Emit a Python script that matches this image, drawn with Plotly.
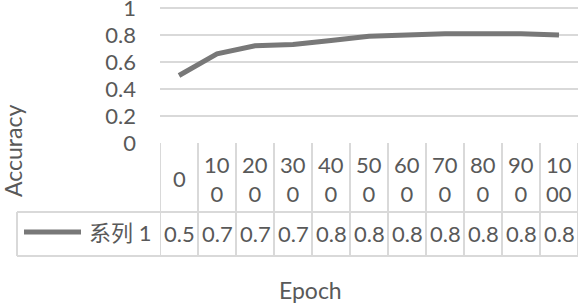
import plotly.graph_objects as go

epochs = ["0", "100", "200", "300", "400", "500", "600", "700", "800", "900", "1000"]
accuracy = [0.50, 0.66, 0.72, 0.73, 0.76, 0.79, 0.80, 0.81, 0.81, 0.81, 0.80]
series_name = "系列 1"
y_ticks = [0, 0.2, 0.4, 0.6, 0.8, 1]

W, H = 578, 306
def py(p):
    return 1 - p / H
def px(p):
    return p / W

TXT = "#595959"
GRID = "#d9d9d9"
LINE = "#787878"
FONT = "Lato, 'Noto Sans CJK SC', sans-serif"
FS = 22

n = len(epochs)
xs = list(range(n))

fig = go.Figure()
fig.add_trace(go.Scatter(x=xs, y=accuracy, mode="lines",
                         line=dict(color=LINE, width=5), name=series_name,
                         showlegend=False, hoverinfo="skip"))

shapes = []
annotations = []
table_top, row_split, table_bot = 143, 212, 256
leg_left = 17
for i in range(n + 1):
    shapes.append(dict(type="line", xref="x", yref="paper", x0=i - 0.5, x1=i - 0.5,
                       y0=py(table_top), y1=py(table_bot), line=dict(color=GRID, width=2)))
shapes.append(dict(type="line", xref="paper", yref="paper", x0=px(leg_left), x1=px(leg_left),
                   y0=py(row_split), y1=py(table_bot), line=dict(color=GRID, width=2)))
for yy, x0 in [(row_split, leg_left), (table_bot, leg_left)]:
    shapes.append(dict(type="line", xref="paper", yref="paper", x0=px(x0), x1=1,
                       y0=py(yy), y1=py(yy), line=dict(color=GRID, width=2)))
shapes.append(dict(type="line", xref="paper", yref="paper", x0=px(24), x1=px(81),
                   y0=py(232), y1=py(232), line=dict(color=LINE, width=5)))

def wrap(s):
    parts = [s[i:i + 2] for i in range(0, len(s), 2)]
    return "<br>".join(parts)

for i, lab in enumerate(epochs):
    annotations.append(dict(x=i, xref="x", y=py((table_top + row_split) / 2 + 1), yref="paper",
                            text=wrap(lab), showarrow=False, font=dict(size=FS, color=TXT, family=FONT),
                            xanchor="center", yanchor="middle"))
    annotations.append(dict(x=i, xref="x", y=py((row_split + table_bot) / 2), yref="paper",
                            text=f"{accuracy[i]:.1f}", showarrow=False,
                            font=dict(size=FS, color=TXT, family=FONT),
                            xanchor="center", yanchor="middle"))
annotations.append(dict(x=px(120), xref="paper", y=py(232), yref="paper", text=series_name,
                        showarrow=False, font=dict(size=FS, color=TXT, family=FONT),
                        xanchor="center", yanchor="middle"))
annotations.append(dict(x=px(13), xref="paper", y=py(151), yref="paper", text="Accuracy",
                        textangle=-90, showarrow=False, font=dict(size=FS + 1, color=TXT, family=FONT),
                        xanchor="center", yanchor="middle"))
annotations.append(dict(x=px(310), xref="paper", y=py(290), yref="paper", text="Epoch",
                        showarrow=False, font=dict(size=FS + 1, color=TXT, family=FONT),
                        xanchor="center", yanchor="middle"))

ytop = 1.02
fig.update_layout(
    width=W, height=H, autosize=False,
    margin=dict(l=0, r=0, t=0, b=0, autoexpand=False),
    paper_bgcolor="white", plot_bgcolor="white",
    shapes=shapes, annotations=annotations,
    font=dict(family=FONT, color=TXT, size=FS),
    xaxis=dict(domain=[px(160), 1], range=[-0.5, n - 0.5], showgrid=False,
               zeroline=False, showticklabels=False, showline=False, fixedrange=True),
    yaxis=dict(domain=[py(table_top), py(table_top - 135 * ytop)], range=[0, ytop], tickvals=y_ticks,
               ticktext=[f"{v:g}" for v in y_ticks], showgrid=True, gridcolor=GRID,
               gridwidth=2, zeroline=False, showline=False, ticklabelstandoff=23,
               ticklabeloverflow="allow",
               tickfont=dict(size=FS, color=TXT, family=FONT), fixedrange=True),
)

css_js = (
    "var s=document.createElement('style');"
    "s.textContent='html,body{margin:0;padding:0;overflow:hidden;height:306px;width:578px;}"
    "body>div{line-height:0;font-size:0;height:306px;}';"
    "document.head.appendChild(s);"
)
fig.write_html("out.html", config={"displayModeBar": False, "responsive": False},
               post_script=css_js)
